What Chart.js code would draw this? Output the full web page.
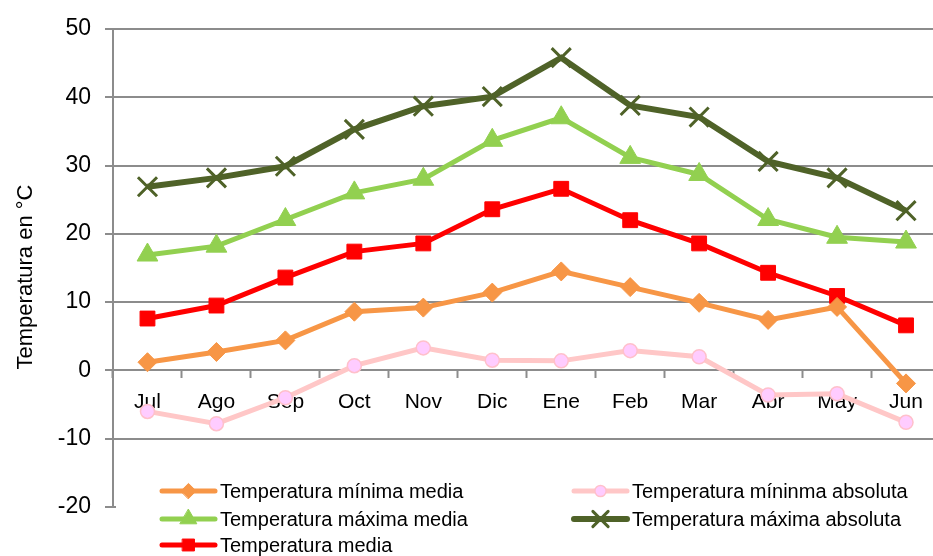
<!DOCTYPE html>
<html>
<head>
<meta charset="utf-8">
<title>Temperaturas</title>
<script src="https://cdn.jsdelivr.net/npm/chart.js@4.4.1/dist/chart.umd.min.js"></script>
<style>
  html, body { margin: 0; padding: 0; background: #fff; overflow: hidden; }
  #wrap { width: 933px; height: 556px; overflow: hidden; }
  #box { width: 957px; height: 556px; position: relative; }
</style>
</head>
<body>
<div id="wrap"><div id="box"><canvas id="tempChart"></canvas></div></div>
<script>
const months = ["Jul", "Ago", "Sep", "Oct", "Nov", "Dic", "Ene", "Feb", "Mar", "Abr", "May", "Jun"];
const minMedia = [1.2, 2.7, 4.4, 8.6, 9.2, 11.4, 14.5, 12.2, 9.9, 7.4, 9.3, -1.9];
const minAbsoluta = [-6.0, -7.8, -4.0, 0.7, 3.3, 1.5, 1.4, 2.9, 2.0, -3.6, -3.4, -7.6];
const maxMedia = [16.9, 18.2, 22.1, 26.0, 28.0, 33.7, 37.0, 31.2, 28.7, 22.1, 19.5, 18.8];
const maxAbsoluta = [26.9, 28.2, 29.9, 35.3, 38.7, 40.1, 45.8, 38.8, 37.1, 30.6, 28.2, 23.4];
const media = [7.6, 9.5, 13.6, 17.4, 18.6, 23.6, 26.6, 22.0, 18.6, 14.3, 10.9, 6.6];

const seriesLabels = [
  "Temperatura mínima media",
  "Temperatura míninma absoluta",
  "Temperatura máxima media",
  "Temperatura máxima absoluta",
  "Temperatura media"
];
const axisTitle = "Temperatura en °C";

const FONT = "'Liberation Sans', Arial, sans-serif";
const gridColor = "#8c8c8c";

// axis title and a two-column legend over the lower part of the plot
const boxLegend = {
  id: "boxLegend",
  afterDraw(chart, args, opts) {
    const ctx = chart.ctx;
    const { drawPoint } = Chart.helpers;
    ctx.save();

    ctx.save();
    ctx.translate(opts.titleX, opts.titleY);
    ctx.rotate(-Math.PI / 2);
    ctx.fillStyle = "#000";
    ctx.font = "22px " + FONT;
    ctx.textAlign = "center";
    ctx.textBaseline = "middle";
    ctx.fillText(axisTitle, 0, 0);
    ctx.restore();

    ctx.fillStyle = "#fff";
    ctx.fillRect(opts.left, opts.top, chart.width - opts.left, chart.height - opts.top);
    chart.data.datasets.forEach((ds, i) => {
      const x = opts.cols[i % 2];
      const y = opts.rows[Math.floor(i / 2)];
      ctx.strokeStyle = ds.borderColor;
      ctx.lineWidth = ds.borderWidth;
      ctx.lineCap = "round";
      ctx.beginPath();
      ctx.moveTo(x, y);
      ctx.lineTo(x + opts.lineLength, y);
      ctx.stroke();
      ctx.fillStyle = ds.pointBackgroundColor;
      ctx.strokeStyle = ds.pointBorderColor;
      ctx.lineWidth = ds.pointBorderWidth;
      drawPoint(ctx, {
        pointStyle: ds.pointStyle,
        radius: ds.pointRadius * 0.8,
        rotation: 0,
        borderWidth: ds.pointBorderWidth
      }, x + opts.lineLength / 2, y);
      ctx.fillStyle = "#000";
      ctx.font = "20px " + FONT;
      ctx.textBaseline = "middle";
      ctx.textAlign = "left";
      ctx.fillText(ds.label, x + opts.lineLength + 5, y + 1);
    });
    ctx.restore();
  }
};

function line(label, data, color, style, radius, extra) {
  return Object.assign({
    label: label,
    data: data,
    borderColor: color,
    backgroundColor: color,
    borderWidth: 5,
    pointStyle: style,
    pointRadius: radius,
    pointHoverRadius: radius,
    pointBackgroundColor: color,
    pointBorderColor: color,
    pointBorderWidth: 1,
    tension: 0,
    fill: false
  }, extra || {});
}

new Chart(document.getElementById("tempChart"), {
  type: "line",
  data: {
    labels: months,
    datasets: [
      line(seriesLabels[0], minMedia, "#F79646", "rectRot", 9.5),
      line(seriesLabels[1], minAbsoluta, "#FFC7C7", "circle", 7, {
        pointBackgroundColor: "#FFCCFF",
        pointBorderColor: "#FFC0CB",
        pointBorderWidth: 1.5
      }),
      line(seriesLabels[2], maxMedia, "#92D050", "triangle", 12),
      line(seriesLabels[3], maxAbsoluta, "#4F6228", "crossRot", 13.5, {
        borderWidth: 6,
        pointBorderWidth: 3
      }),
      line(seriesLabels[4], media, "#FF0000", "rect", 10.5)
    ]
  },
  options: {
    responsive: true,
    maintainAspectRatio: false,
    animation: false,
    events: [],
    layout: { padding: { top: 29, right: 9, bottom: 49, left: 0 } },
    plugins: {
      legend: { display: false },
      tooltip: { enabled: false },
      boxLegend: {
        titleX: 26,
        titleY: 277,
        left: 116,
        top: 462,
        cols: [162, 574],
        rows: [491, 519, 545],
        lineLength: 53
      }
    },
    scales: {
      x: {
        position: { y: 0 },
        z: 1,
        offset: true,
        grid: {
          drawOnChartArea: false,
          drawTicks: true,
          tickLength: 7,
          tickWidth: 2,
          tickColor: gridColor,
          offset: true
        },
        border: { display: true, color: gridColor, width: 2 },
        ticks: {
          color: "#000",
          padding: 12,
          font: { family: FONT, size: 21 }
        }
      },
      y: {
        min: -20,
        max: 50,
        afterFit(scale) { scale.width = 113; },
        ticks: {
          stepSize: 10,
          color: "#000",
          padding: 14,
          font: { family: FONT, size: 23 }
        },
        grid: {
          color: gridColor,
          lineWidth: 2,
          tickLength: 8
        },
        border: { display: true, color: gridColor, width: 2 }
      }
    }
  },
  plugins: [boxLegend]
});
</script>
</body>
</html>
